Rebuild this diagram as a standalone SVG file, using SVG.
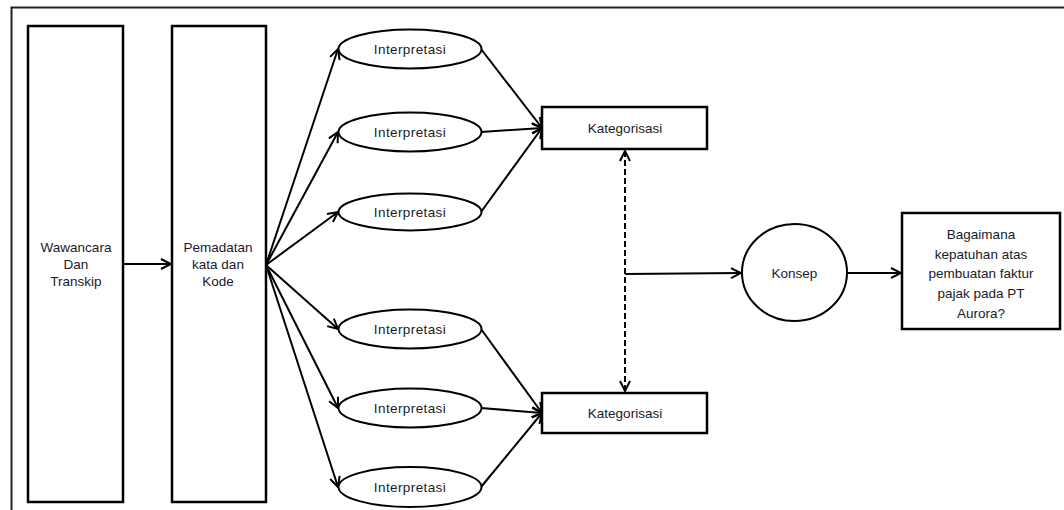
<svg xmlns="http://www.w3.org/2000/svg" width="1064" height="510" viewBox="0 0 1064 510">
  <style>
    .box { fill: #ffffff; stroke: #000000; stroke-width: 2.5; }
    .oval { fill: #ffffff; stroke: #000000; stroke-width: 2; }
    .lbl { font-family: "Liberation Sans", Arial, sans-serif; font-size: 13.5px; fill: #1a1a2a; text-anchor: middle; }
    .oval-lbl { letter-spacing: 0.4px; }
    .edge { fill: none; stroke: #000000; stroke-width: 2; }
    .dash { fill: none; stroke: #000000; stroke-width: 2; stroke-dasharray: 6 3; }
  </style>
  <defs>
    <marker id="open" viewBox="0 0 12 12" refX="11" refY="6" markerWidth="12" markerHeight="12" markerUnits="userSpaceOnUse" orient="auto-start-reverse">
      <path d="M1,1 L11,6 L1,11" fill="none" stroke="#000000" stroke-width="2"/>
    </marker>
  </defs>

  <rect width="1064" height="510" fill="#ffffff"/>
  <!-- outer frame, open on the right and bottom -->
  <path d="M11.5,510 V7.5 H1064" fill="none" stroke="#222222" stroke-width="2"/>

  <g id="connectors">
    <line class="edge" x1="123" y1="264" x2="171" y2="264" marker-end="url(#open)"/>
    <line class="edge" x1="266" y1="265" x2="338" y2="49" marker-end="url(#open)"/>
    <line class="edge" x1="266" y1="265" x2="338" y2="132" marker-end="url(#open)"/>
    <line class="edge" x1="266" y1="265" x2="338" y2="212" marker-end="url(#open)"/>
    <line class="edge" x1="266" y1="265" x2="338" y2="329" marker-end="url(#open)"/>
    <line class="edge" x1="266" y1="265" x2="338" y2="408" marker-end="url(#open)"/>
    <line class="edge" x1="266" y1="265" x2="338" y2="487" marker-end="url(#open)"/>
    <line class="edge" x1="481" y1="49" x2="542" y2="128" marker-end="url(#open)"/>
    <line class="edge" x1="481" y1="132" x2="542" y2="128" marker-end="url(#open)"/>
    <line class="edge" x1="481" y1="212" x2="542" y2="128" marker-end="url(#open)"/>
    <line class="edge" x1="481" y1="329" x2="542" y2="413" marker-end="url(#open)"/>
    <line class="edge" x1="481" y1="408" x2="542" y2="413" marker-end="url(#open)"/>
    <line class="edge" x1="481" y1="487" x2="542" y2="413" marker-end="url(#open)"/>
    <line class="dash" x1="625" y1="151" x2="625" y2="391" marker-start="url(#open)" marker-end="url(#open)"/>
    <line class="edge" x1="625" y1="274" x2="741" y2="273" marker-end="url(#open)"/>
    <line class="edge" x1="847" y1="273" x2="901" y2="273" marker-end="url(#open)"/>
  </g>

  <g id="wawancara">
    <rect class="box" x="28" y="26" width="95" height="476"/>
    <text class="lbl" x="76" y="252">Wawancara</text>
    <text class="lbl" x="76" y="269">Dan</text>
    <text class="lbl" x="76" y="286">Transkip</text>
  </g>

  <g id="pemadatan">
    <rect class="box" x="172" y="26" width="94" height="476"/>
    <text class="lbl" x="218" y="252">Pemadatan</text>
    <text class="lbl" x="218" y="269">kata dan</text>
    <text class="lbl" x="218" y="286">Kode</text>
  </g>

  <g id="interpretasi-1">
    <ellipse class="oval" cx="410" cy="49" rx="71.5" ry="19.5"/>
    <text class="lbl oval-lbl" x="410" y="54">Interpretasi</text>
  </g>
  <g id="interpretasi-2">
    <ellipse class="oval" cx="410" cy="132" rx="71.5" ry="19.5"/>
    <text class="lbl oval-lbl" x="410" y="137">Interpretasi</text>
  </g>
  <g id="interpretasi-3">
    <ellipse class="oval" cx="410" cy="212" rx="71.5" ry="18.5"/>
    <text class="lbl oval-lbl" x="410" y="217">Interpretasi</text>
  </g>
  <g id="interpretasi-4">
    <ellipse class="oval" cx="410" cy="329" rx="71.5" ry="19.5"/>
    <text class="lbl oval-lbl" x="410" y="334">Interpretasi</text>
  </g>
  <g id="interpretasi-5">
    <ellipse class="oval" cx="410" cy="408" rx="71.5" ry="19.5"/>
    <text class="lbl oval-lbl" x="410" y="413">Interpretasi</text>
  </g>
  <g id="interpretasi-6">
    <ellipse class="oval" cx="410" cy="487" rx="71.5" ry="20"/>
    <text class="lbl oval-lbl" x="410" y="492">Interpretasi</text>
  </g>

  <g id="kategorisasi-1">
    <rect class="box" x="542" y="107" width="165" height="42"/>
    <text class="lbl" x="625" y="133">Kategorisasi</text>
  </g>
  <g id="kategorisasi-2">
    <rect class="box" x="542" y="393" width="165" height="40"/>
    <text class="lbl" x="625" y="418">Kategorisasi</text>
  </g>

  <g id="konsep">
    <ellipse class="oval" cx="794.5" cy="272.5" rx="52.5" ry="48.5"/>
    <text class="lbl" x="794.5" y="278">Konsep</text>
  </g>

  <g id="pertanyaan">
    <rect class="box" x="902" y="213" width="158" height="116"/>
    <text class="lbl" x="981" y="239">Bagaimana</text>
    <text class="lbl" x="981" y="259">kepatuhan atas</text>
    <text class="lbl" x="981" y="278">pembuatan faktur</text>
    <text class="lbl" x="981" y="298">pajak pada PT</text>
    <text class="lbl" x="981" y="318">Aurora?</text>
  </g>
</svg>
